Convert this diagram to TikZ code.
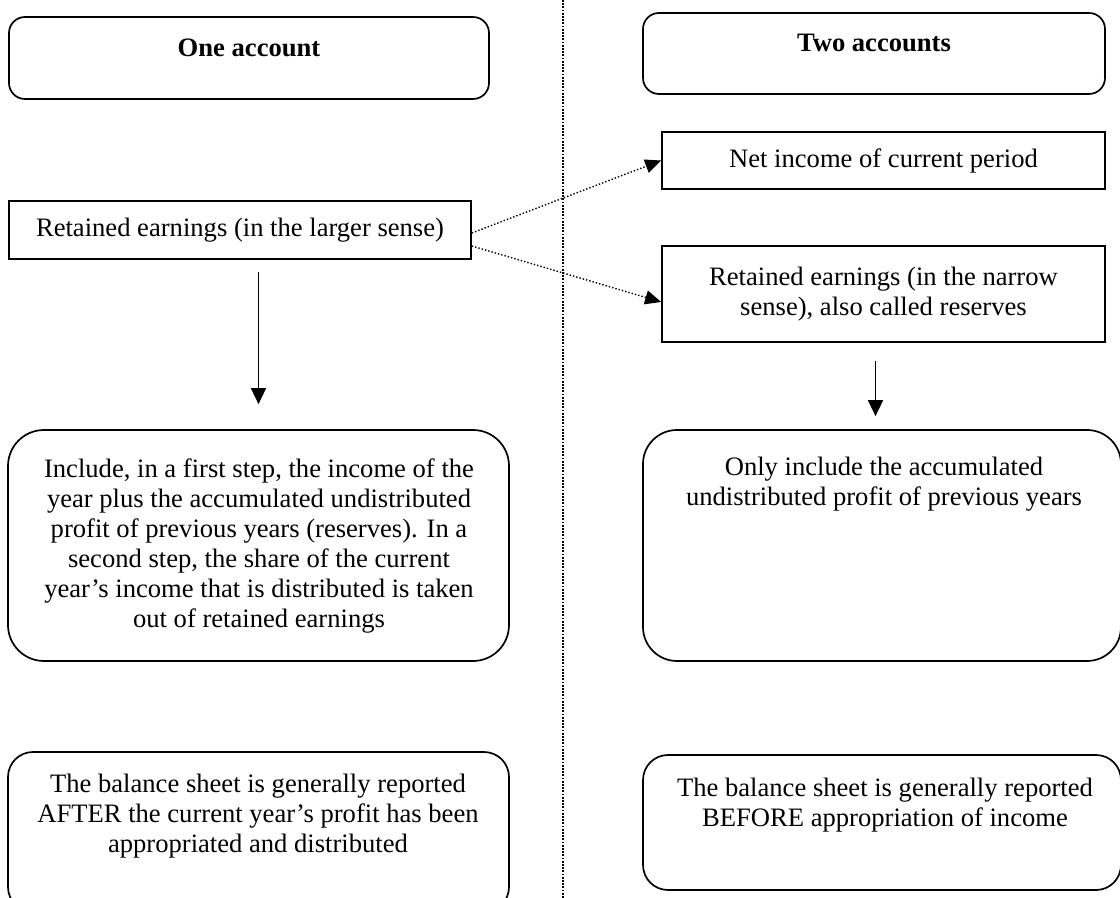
\documentclass[tikz,border=0pt]{standalone}
\usepackage{fontspec}
\setmainfont{Liberation Serif}
\usetikzlibrary{arrows.meta}
\begin{document}
\begin{tikzpicture}[x=0.5pt,y=-0.5pt,
  every node/.style={font=\fontsize{13.3pt}{15pt}\selectfont, inner sep=0pt, align=center},
  frame/.style={draw, line width=0.85pt},
  rbox/.style={frame, rounded corners=#1},
  arr/.style={line width=0.8pt, -{Triangle[length=8pt,width=7.5pt]}},
  dotarr/.style={line width=0.7pt, dash pattern=on 0.7pt off 1pt,
                 -{Triangle[length=8pt,width=7pt]}},
  divider/.style={line width=1.1pt, dash pattern=on 0.9pt off 0.7pt}]
\useasboundingbox (0,0) rectangle (1120,898);

% column divider
\coordinate (vtop) at (563,0);
\coordinate (vbot) at (563,898);
\draw[divider] (vtop) -- (vbot);

% headings
\node[rbox=8pt, minimum width=240pt, minimum height=41pt] (b1) at (249,58) {};
\node[font=\fontsize{13.3pt}{15pt}\selectfont\bfseries] (b1t) at (249,48) {One account};
\node[rbox=8pt, minimum width=231pt, minimum height=40.5pt] (b2) at (874,53.5) {};
\node[font=\fontsize{13.3pt}{15pt}\selectfont\bfseries] (b2t) at (874,43) {Two accounts};

% one-account side
\node[frame, minimum width=231pt, minimum height=29pt] (lg) at (240,230)
  {Retained earnings (in the larger sense)};
\node[rbox=18pt, minimum width=250.5pt, minimum height=115.5pt] (inc) at (258.5,545.5) {};
\node (inct) at (259,546) {Include, in a first step, the income of the\\
  year plus the accumulated undistributed\\
  profit of previous years (reserves). In a\\
  second step, the share of the current\\
  year’s income that is distributed is taken\\
  out of retained earnings};
\node[rbox=12.5pt, minimum width=250.5pt, minimum height=80pt] (bl) at (258.5,832) {};
\node (blt) at (258,816) {The balance sheet is generally reported\\
  AFTER the current year’s profit has been\\
  appropriated and distributed};

% two-account side
\node[frame, minimum width=221.5pt, minimum height=28.5pt] (net) at (883.5,160.5)
  {Net income of current period};
\node[frame, minimum width=221.5pt, minimum height=48pt] (nar) at (883.5,294)
  {Retained earnings (in the narrow\\ sense), also called reserves};
\node[rbox=17pt, minimum width=239pt, minimum height=115.5pt] (only) at (882,545.5) {};
\node (onlyt) at (884,484) {Only include the accumulated\\
  undistributed profit of previous years};
\node[rbox=12.5pt, minimum width=239pt, minimum height=67.5pt] (br) at (882,822.5) {};
\node (brt) at (885,805) {The balance sheet is generally reported\\
  BEFORE appropriation of income};

% connectors
\draw[dotarr] ([yshift=-1.5pt]lg.east) -- (net.west);
\draw[dotarr] ([yshift=-8pt]lg.east) -- ([yshift=-4pt]nar.west);
\draw[arr, shorten <=6pt, shorten >=12.5pt] (lg.south -| inc.north) -- (inc.north);
\draw[arr, shorten <=9pt, shorten >=6.5pt] ([xshift=-4pt]nar.south) -- ([xshift=-4pt]nar.south |- only.north);
\end{tikzpicture}
\end{document}
